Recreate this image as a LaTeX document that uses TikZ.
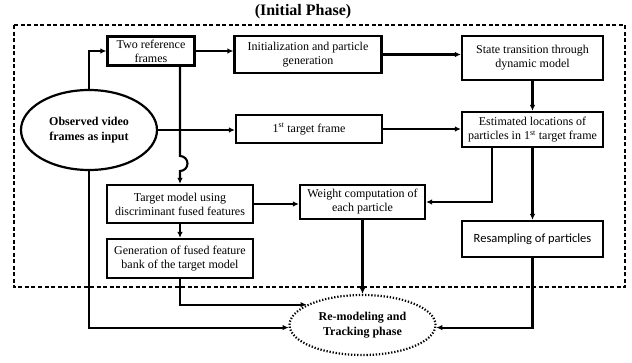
\documentclass[tikz,border=0pt]{standalone}
\usepackage{fontspec}
\setmainfont{Liberation Serif}
\newfontfamily\calib{Carlito}
\usetikzlibrary{arrows.meta,shapes.geometric,calc}
\tikzset{
  box/.style={draw, line width=2.2pt, align=center, inner sep=0pt, font=\fontsize{12}{14}\selectfont},
  oval/.style={draw, ellipse, line width=2.2pt, align=center, inner sep=0pt, font=\bfseries\fontsize{12}{14.5}\selectfont},
  conn/.style={line width=2.1pt, -{Latex[length=6pt,width=5.5pt]}},
}
\begin{document}
\begin{tikzpicture}[x=1pt,y=-1pt]
\useasboundingbox (0,0) rectangle (632,362);
\node (title) at (303,12) {\bfseries\fontsize{16}{18}\selectfont (Initial Phase)};
\draw[line width=1.4pt, dash pattern=on 4pt off 2.5pt] (14,25) rectangle (625,287);

\node[box, minimum width=87pt, minimum height=29pt] (two) at (151,51) {Two reference\\frames};
\node[box, minimum width=147pt, minimum height=37pt] (init) at (308,54.5) {Initialization and particle\\generation};
\node[box, minimum width=141pt, minimum height=44pt] (state) at (532.5,58) {State transition through\\dynamic model};
\node[box, minimum width=146pt, minimum height=28pt] (first) at (309,129) {1\textsuperscript{st} target frame};
\node[box, minimum width=141pt, minimum height=35pt] (est) at (532.5,129.5) {Estimated locations of\\particles in 1\textsuperscript{st} target frame};
\node[oval, minimum width=136pt, minimum height=80pt] (obs) at (89,130) {Observed video\\frames as input};
\node[box, minimum width=146pt, minimum height=38pt] (tm) at (180,204) {Target model using\\discriminant fused features};
\node[box, minimum width=146pt, minimum height=39pt] (gen) at (180,258.5) {Generation of fused feature\\bank of the target model};
\node[box, minimum width=125pt, minimum height=34pt] (wt) at (362.5,202) {Weight computation of\\each particle};
\node[box, minimum width=141pt, minimum height=36pt, font=\calib\fontsize{12.5}{14}\selectfont] (res) at (532.5,239) {Resampling of particles};
\node[ellipse, draw, line width=2.2pt, dash pattern=on 1.3pt off 1.8pt, align=center, inner sep=0pt,
      minimum width=146pt, minimum height=60pt, font=\bfseries\fontsize{12}{14.5}\selectfont] (remod) at (362.5,325) {Re-modeling and\\Tracking phase};

\draw[conn] (obs.north) |- (two.west);
\draw[conn] (two.east) -- (init.west |- two.east);
\draw[conn] (init.east) -- (state.west |- init.east);
\draw[conn] (state) -- (est);
\draw[conn] (obs.east) -- (first.west |- obs.east);
\draw[conn] (first.east) -- (est.west |- first.east);
\draw[conn] (two.south -| tm.north) -- (180,156) arc[start angle=90, end angle=-90, radius=7.5pt] -- (tm.north);
\draw[conn] (tm) -- (gen);
\draw[conn] (tm.east) -- (wt.west |- tm.east);
\draw[conn] ([xshift=31pt]est.south west) |- (wt.east);
\draw[conn] (est.south) -- (res.north);
\draw[conn] (gen.south) |- (remod.160);
\draw[conn] (obs.south) |- (remod.182);
\draw[conn] (wt.south) -- (remod.north);
\draw[conn] (res.south) |- (remod.-2);
\end{tikzpicture}
\end{document}
